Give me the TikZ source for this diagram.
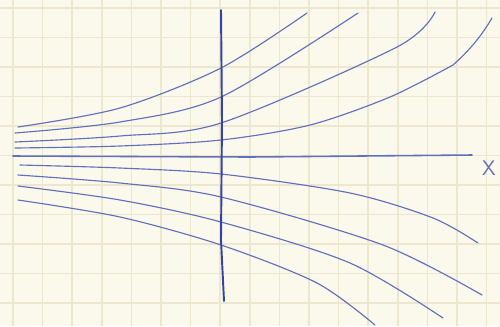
\documentclass[tikz,border=0pt]{standalone}
\usepackage{tikz}
\usepackage{xcolor}
\definecolor{paper}{HTML}{FBF9EC}
\definecolor{gridline}{HTML}{EEE7D0}
\definecolor{ink}{HTML}{6270BC}
\definecolor{darkink}{HTML}{3444A6}

\begin{document}
\begin{tikzpicture}[x=0.02cm,y=-0.02cm,
  fieldline/.style={ink,line width=0.65pt,line cap=round},
  axisline/.style={darkink,line width=1.1pt,line cap=round}]
  \useasboundingbox (0,0) rectangle (500,326);
  \fill[paper] (0,0) rectangle (500,326);
  % squared paper
  \foreach \i in {0,...,16} \draw[gridline,line width=0.9pt] (13+29.6*\i,0) -- (13+29.6*\i,326);
  \foreach \j in {0,...,10} \draw[gridline,line width=0.9pt] (0,8+29.5*\j) -- (500,8+29.5*\j);
  % horizontal axis
  \draw[fieldline,line width=0.9pt] (13,156) -- (250,157) -- (472,155);
  \node[ink,font=\sffamily\large] (xlabel) at (489,168) {X};
  % upper curves
  \draw[fieldline] plot[smooth] coordinates {(18,127) (120,108) (221,68) (307,13)};
  \draw[fieldline] plot[smooth] coordinates {(15,133) (120,122) (221,97) (358,13)};
  \draw[fieldline] plot[smooth] coordinates {(15,142) (120,136) (221,123) (397,47) (435,12)};
  \draw[fieldline] plot[smooth] coordinates {(15,148) (120,146) (221,140) (310,125) (390,97) (453,65)};
  \draw[fieldline] (453,65) .. controls (470,50) and (482,35) .. (492,18);
  % lower curves
  \draw[fieldline] plot[smooth] coordinates {(20,165) (120,168) (221,174) (350,193) (433,218) (478,243)};
  \draw[fieldline] plot[smooth] coordinates {(18,175) (120,183) (221,197) (383,245) (482,295)};
  \draw[fieldline] plot[smooth] coordinates {(18,186) (120,200) (221,222) (350,263) (443,318)};
  \draw[fieldline] plot[smooth] coordinates {(18,200) (120,217) (221,245) (317,283) (375,325)};
  % vertical axis
  \draw[axisline] (221,10) -- (222,120) -- (221,240) -- (224,301);
\end{tikzpicture}
\end{document}
